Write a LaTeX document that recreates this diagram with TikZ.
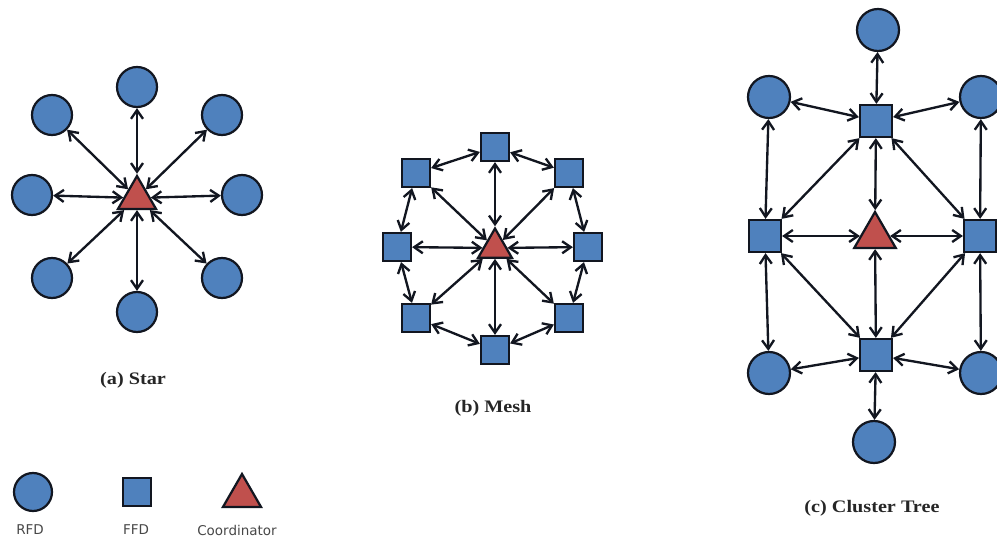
\documentclass[tikz,border=0pt]{standalone}
\usepackage{fontspec}
\usetikzlibrary{shapes.geometric,arrows.meta}
\newfontfamily\capfont[FakeStretch=1.15]{Liberation Serif}
\newfontfamily\legfont{DejaVu Sans}
\definecolor{nodeblue}{RGB}{79,129,189}
\definecolor{trired}{RGB}{192,80,77}
\definecolor{edgeline}{RGB}{18,22,32}
\tikzset{
  rfd/.style={circle,draw=edgeline,fill=nodeblue,line width=1.9pt,inner sep=0pt,minimum size=1.2cm},
  ffd/.style={rectangle,draw=edgeline,fill=nodeblue,line width=1.9pt,inner sep=0pt,minimum size=.84cm},
  bigffd/.style={ffd,minimum size=.96cm},
  coord/.style={regular polygon,regular polygon sides=3,draw=edgeline,fill=trired,line width=1.9pt,inner sep=0pt,minimum size=1.32cm},
  link/.style={<->,line width=2pt,draw=edgeline},
  caption/.style={font=\capfont\bfseries\fontsize{15}{17}\selectfont,text=black!85},
  legtext/.style={font=\legfont\fontsize{11.5}{13}\selectfont,text=black!72}
}
\begin{document}
\begin{tikzpicture}[x=.03cm,y=-.03cm,>={Straight Barb[length=2.6mm,width=3.6mm]}]
  \useasboundingbox (0,0) rectangle (997,537);
  % (a) star
  \node[coord] (sc) at (137,198) {};
  \foreach \n/\x/\y in {t/137/87, ul/52/115, ur/222/115, l/32/195, r/242/195, ll/52/278, lr/222/278, b/137/312} {
    \node[rfd] (s\n) at (\x,\y) {};
    \draw[link] (sc) -- (s\n);
  }
  \node[caption] (capa) at (133,380) {(a) Star};
  % (b) mesh
  \node[coord,minimum size=1.17cm] (mc) at (495,248) {};
  \foreach \n/\x/\y in {t/495/147, ul/416/173, ur/569/173, l/397/247, r/588/247, ll/416/318, lr/569/318, b/495/350} {
    \node[ffd] (m\n) at (\x,\y) {};
    \draw[link] (mc) -- (m\n);
  }
  \foreach \a/\b in {t/ul, ul/l, l/ll, ll/b, b/lr, lr/r, r/ur, ur/t}
    \draw[link] (m\a) -- (m\b);
  \node[caption] (capb) at (493,408) {(b) Mesh};
  % (c) cluster tree
  \node[coord,minimum size=1.44cm] (cc) at (875,236) {};
  \foreach \n/\x/\y in {t/876/121, l/765/236, r/980/236, b/876/355}
    \node[bigffd] (cs\n) at (\x,\y) {};
  \foreach \n/\x/\y in {t/878/30, ul/769/97, ur/981/97, ll/769/373, lr/981/373, b/874/442}
    \node[rfd,minimum size=1.26cm] (cr\n) at (\x,\y) {};
  \foreach \n in {t,l,r,b}
    \draw[link] (cc) -- (cs\n);
  \foreach \a/\b in {cst/crt, cst/crul, cst/crur, crul/csl, crur/csr, cst/csl, cst/csr,
                     csb/csl, csb/csr, csl/crll, csr/crlr, csb/crll, csb/crlr, csb/crb}
    \draw[link] (\a) -- (\b);
  \node[caption] (capc) at (872,508) {(c) Cluster Tree};
  % legend
  \node[rfd,minimum size=1.14cm] (keyr) at (33,492) {};
  \node[ffd] (keyf) at (137,492) {};
  \node[coord] (keyc) at (242,496) {};
  \node[legtext] (keyrt) at (30,530) {RFD};
  \node[legtext] (keyft) at (136,530) {FFD};
  \node[legtext] (keyct) at (237,530) {Coordinator};
\end{tikzpicture}
\end{document}
